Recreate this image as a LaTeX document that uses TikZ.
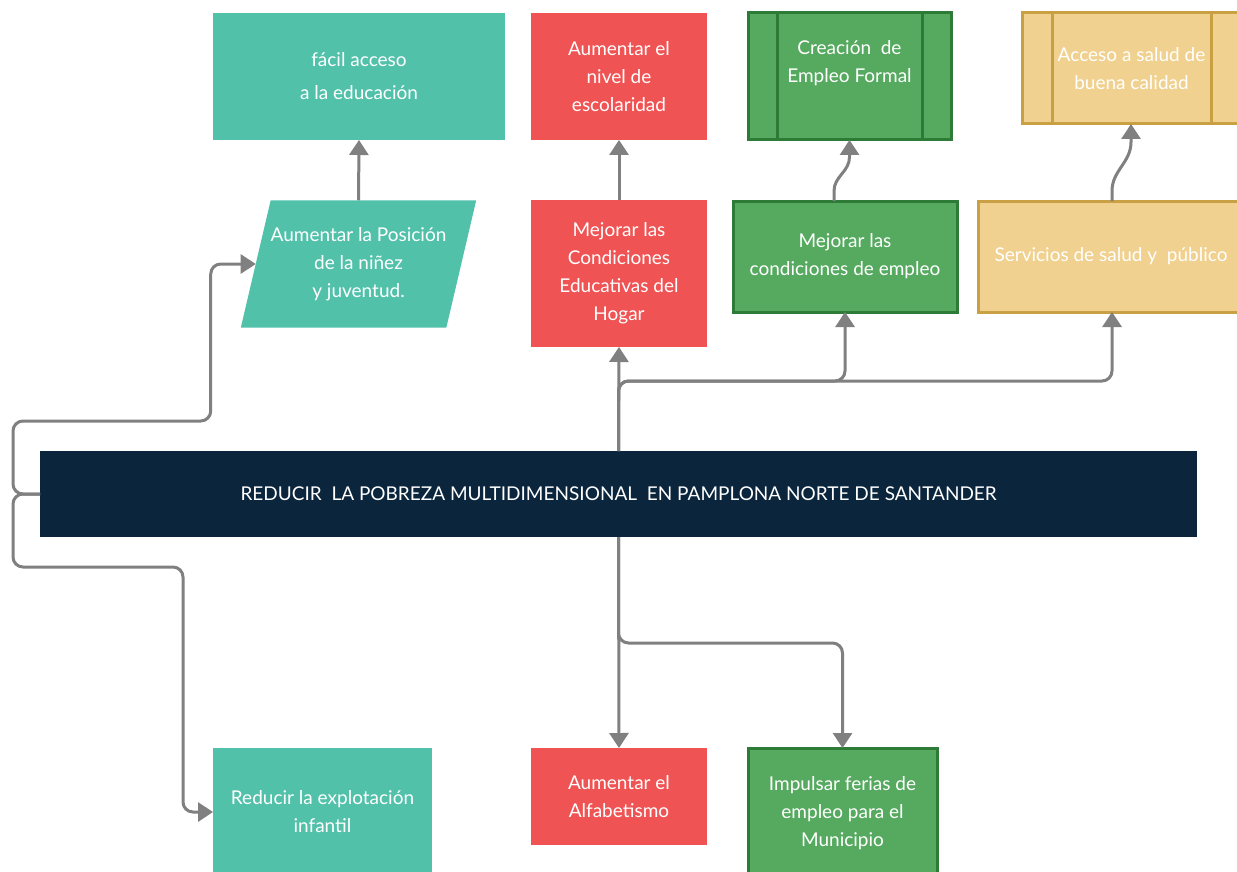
\documentclass[tikz,border=0pt]{standalone}
\usepackage{fontspec}
\setmainfont{Lato}
\usepackage{tikz}
\usetikzlibrary{arrows.meta,calc}
\usetikzlibrary{shapes.geometric}
\definecolor{tealfill}{HTML}{52C1AA}
\definecolor{redfill}{HTML}{F05353}
\definecolor{greenfill}{HTML}{55AA60}
\definecolor{greenline}{HTML}{2E7B38}
\definecolor{sandfill}{HTML}{F0D18F}
\definecolor{sandline}{HTML}{C9A043}
\definecolor{navyfill}{HTML}{0A253C}
\definecolor{linkgray}{HTML}{808080}
\tikzstyle{box}=[rectangle, inner sep=0pt, outer sep=0pt, align=center, text=white, font=\fontsize{19}{28}\selectfont]
\tikzstyle{tealbox}=[box, fill=tealfill]
\tikzstyle{redbox}=[box, fill=redfill]
\tikzstyle{greenbox}=[box, fill=greenfill, draw=greenline, line width=3pt]
\tikzstyle{sandbox}=[box, fill=sandfill, draw=sandline, line width=3pt]
\tikzstyle{goalbox}=[box, fill=navyfill]
\tikzstyle{link}=[draw=linkgray, line width=3pt, rounded corners=10pt, -{Triangle[width=19pt,length=15pt]}]
\newcommand{\sideBars}[3]{
	\draw[#1] ($(#2.north west)+(#3,0)$) -- ($(#2.south west)+(#3,0)$);
	\draw[#1] ($(#2.north east)+(-#3,0)$) -- ($(#2.south east)+(-#3,0)$);
}
\begin{document}
\begin{tikzpicture}[x=1pt, y=1pt]
	\useasboundingbox (0,0) rectangle (1237,-872);
	\fill[white] (0,0) rectangle (1237,-872);
	\clip (0,0) rectangle (1237,-872);
	% upper row
	\node[tealbox, minimum width=292pt, minimum height=127pt] (edu) at (359,-76.5) {f\'acil acceso\\[5pt]a la educaci\'on};
	\node[redbox, minimum width=176pt, minimum height=127pt] (escol) at (619,-76.5) {Aumentar el\\nivel de\\escolaridad};
	\node[greenbox, minimum width=203pt, minimum height=127pt] (empleof) at (849.5,-76.5) {Creaci\'on\ \ de\\Empleo Formal\\[2pt]\mbox{}};
	\sideBars{greenline, line width=3pt}{empleof}{29}
	\node[sandbox, minimum width=219pt, minimum height=111pt] (salud) at (1131.5,-68.5) {Acceso a salud de\\buena calidad};
	\sideBars{sandline, line width=3pt}{salud}{30}
	% middle row
	\node[box, fill=tealfill, trapezium, trapezium left angle=76.8, trapezium right angle=103.2, trapezium stretches body=true, inner ysep=27pt, minimum width=233pt] (posicion) at (358.5,-264) {Aumentar la Posici\'on\\de la ni\~nez\\y juventud.};
	\node[redbox, minimum width=176pt, minimum height=147pt] (condhogar) at (619,-273.5) {Mejorar las\\Condiciones\\Educativas del\\Hogar};
	\node[greenbox, minimum width=224pt, minimum height=111pt] (condempleo) at (845,-256.5) {Mejorar las\\condiciones de empleo};
	\node[sandbox, minimum width=266pt, minimum height=111pt] (servsalud) at (1111,-256.5) {Servicios de salud y\ \ p\'ublico};
	% goal
	\node[goalbox, minimum width=1157pt, minimum height=86pt] (goal) at (618.5,-494) {REDUCIR\ \ LA POBREZA MULTIDIMENSIONAL\ \ EN PAMPLONA NORTE DE SANTANDER};
	% lower row
	\node[tealbox, minimum width=219pt, minimum height=128pt] (explot) at (322.5,-812) {Reducir la explotaci\'on\\infantil};
	\node[redbox, minimum width=176pt, minimum height=97pt] (alfab) at (619,-796.5) {Aumentar el\\Alfabetismo};
	\node[greenbox, minimum width=189pt, minimum height=130pt] (ferias) at (842.5,-813) {Impulsar ferias de\\empleo para el\\Municipio};
	% links
	\draw[link] (posicion.north) -- (edu.south);
	\draw[link] (condhogar.north) -- (escol.south);
	\draw[link, sharp corners] ([xshift=-11pt]condempleo.north) -- ++(0,10) to[out=90,in=-90] ([yshift=-17pt]empleof.south) -- (empleof.south);
	\draw[link, sharp corners] ([xshift=1pt]servsalud.north) -- ++(0,10) to[out=90,in=-90] ([xshift=-0.5pt,yshift=-18pt]salud.south) -- ([xshift=-0.5pt]salud.south);
	\draw[link] (goal.north) -- (condhogar.south);
	\draw[link] (goal.north) |- ([yshift=-69pt]condempleo.south) -- (condempleo.south);
	\draw[link] (goal.north) |- ([xshift=1pt,yshift=-69pt]servsalud.south) -- ([xshift=1pt]servsalud.south);
	\draw[link] (goal.west) -| ([xshift=-27pt,yshift=73pt]goal.west) -| ([xshift=-45pt]posicion.west) -- (posicion.west);
	\draw[link] (goal.west) -| ([xshift=-27pt,yshift=-73pt]goal.west) -| ([xshift=-30pt]explot.west) -- (explot.west);
	\draw[link] (goal.south) -- (alfab.north);
	\draw[link] (goal.south) |- ([yshift=105pt]ferias.north) -- (ferias.north);
\end{tikzpicture}
\end{document}
